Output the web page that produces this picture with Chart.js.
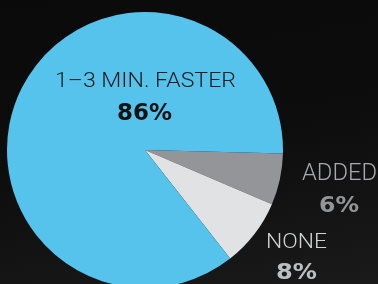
<!DOCTYPE html>
<html>
<head>
<meta charset="utf-8">
<script src="https://cdn.jsdelivr.net/npm/chart.js@4/dist/chart.umd.min.js"></script>
<style>
  html, body { margin: 0; padding: 0; background: #0c0c0c; }
  #wrap {
    width: 378px; height: 284px; overflow: hidden; position: relative;
    background: linear-gradient(170deg, #0a0a0a 0%, #0d0d0d 50%, #1a1a1a 100%);
  }
  canvas { position: absolute; left: 0; top: 0; }
</style>
</head>
<body>
<div id="wrap"><canvas id="myChart" width="378" height="300"></canvas></div>
<script>
// data
var categories = ['ADDED', 'NONE', '1\u20133 MIN. FASTER'];
var values = [6, 8, 86];
var sliceColors = ['#939598', '#e1e2e4', '#55c3ec'];

// text placement for each label: [nameX, nameY, nameWidth, pctX, pctY, pctWidth]
var labelSpots = [
    [339.5, 180, 75, 339, 212, 40],
    [296.5, 248, 61, 296.5, 279, 41],
    [145.5, 87, 181, 144.5, 120, 55]
];
var nameColors = ['#a7a9ac', '#d1d3d4', '#1b1b1b'];
var pctColors = ['#939598', '#bcbec0', '#111111'];

function fitText(ctx, text, cx, y, w) {
    var m = ctx.measureText(text).width;
    ctx.save();
    ctx.translate(cx, y);
    ctx.scale(w / m, 1);
    ctx.fillText(text, 0, 0);
    ctx.restore();
}

var labelPlugin = {
    id: 'pieLabels',
    afterDraw: function(chart) {
        var ctx = chart.ctx;
        ctx.save();
        ctx.textAlign = 'center';
        ctx.textBaseline = 'alphabetic';
        for (var i = 0; i < categories.length; i++) {
            var s = labelSpots[i];
            ctx.fillStyle = nameColors[i];
            ctx.font = (i == 2 ? '21px' : (i == 0 ? '23px' : '21px')) + ' Roboto';
            ctx.font = '300 ' + ctx.font;
            fitText(ctx, categories[i], s[0], s[1], s[2]);
            ctx.fillStyle = pctColors[i];
            ctx.font = 'bold ' + (i == 2 ? '23px' : '21px') + ' "DejaVu Sans"';
            fitText(ctx, values[i] + '%', s[3], s[4], s[5]);
        }
        ctx.restore();
    }
};

var ctx = document.getElementById("myChart").getContext("2d");
var myChart = new Chart(ctx, {
    type: 'pie',
    data: {
        labels: categories,
        datasets: [{
            data: values,
            backgroundColor: sliceColors,
            borderWidth: 0
        }]
    },
    options: {
        responsive: false,
        animation: false,
        rotation: 91.5,
        layout: { padding: { left: 7, top: 12, right: 95, bottom: 12 } },
        plugins: {
            legend: { display: false },
            tooltip: { enabled: false }
        }
    },
    plugins: [labelPlugin]
});
</script>
</body>
</html>
